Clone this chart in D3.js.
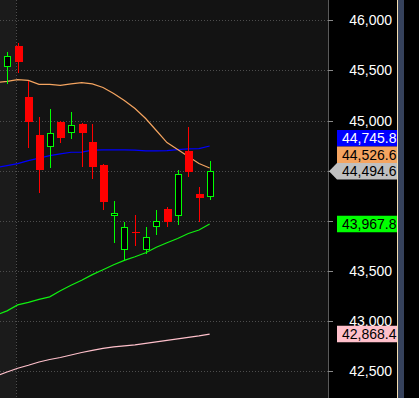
<!DOCTYPE html>
<html>
<head>
<meta charset="utf-8">
<title>Candles</title>
<style>
  body { margin: 0; background: #000; }
  svg { display: block; }
</style>
</head>
<body>
<svg></svg>
<script src="https://d3js.org/d3.v7.min.js"></script>
<script>
  // OHLC for the 20 visible sessions
  var opens  = [45547, 45740, 45230, 44860, 44747, 44990, 44887, 44970, 44790, 44560,
                44057, 43713, 43890, 43717, 43947, 44120, 44057, 44700, 44270, 44247];
  var highs  = [45680, 45773, 45390, 45030, 45110, 45000, 45080, 44975, 44970, 44565,
                44200, 43990, 44060, 43940, 44103, 44140, 44510, 44940, 44340, 44600];
  var lows   = [45367, 45473, 44723, 44273, 44523, 44773, 44813, 44533, 44413, 44110,
                43773, 43600, 43743, 43667, 43853, 43933, 43957, 44433, 43987, 44207];
  var closes = [45647, 45583, 44983, 44503, 44877, 44823, 44957, 44873, 44533, 44183,
                44077, 43940, 43873, 43837, 44000, 43983, 44470, 44483, 44223, 44494.6];

  // moving averages, first value is the session before the first candle
  var maOrange = [45380, 45390, 45407, 45400, 45360, 45360, 45350, 45365, 45377, 45365, 45330,
                  45270, 45200, 45120, 45020, 44900, 44780, 44710, 44640, 44570, 44526.6];
  var maBlue   = [44530, 44550, 44570, 44600, 44625, 44650, 44667, 44683, 44685, 44704, 44706,
                  44706, 44706, 44705, 44697, 44697, 44700, 44710, 44717, 44720, 44745.8];
  var maGreen  = [43060, 43100, 43160, 43185, 43215, 43240, 43300, 43355, 43405, 43462, 43510,
                  43560, 43604, 43640, 43680, 43735, 43780, 43823, 43872, 43907, 43967.8];
  var maPink   = [42450, 42490, 42527, 42557, 42590, 42615, 42635, 42660, 42685, 42705, 42725,
                  42740, 42750, 42760, 42775, 42790, 42805, 42820, 42835, 42850, 42868.4];

  var yTicks = [42500, 43000, 43500, 44000, 44500, 45000, 45500, 46000];

  var W = 419, H = 398, plotW = 328;

  var x = d3.scaleLinear().domain([-0.66, 30.1]).range([0, plotW]);
  var y = d3.scaleLinear().domain([42500, 46000]).range([371, 20.3]);

  var svg = d3.select('svg').attr('width', W).attr('height', H)
    .style('font-family', '"Liberation Sans", Arial, sans-serif');

  // backgrounds
  svg.append('rect').attr('width', W).attr('height', H).attr('fill', '#000');
  svg.append('rect').attr('width', plotW).attr('height', H).attr('fill', '#131313');
  svg.append('rect').attr('width', 16).attr('height', H).attr('fill', '#1b1b1b');
  svg.append('rect').attr('x', 397).attr('width', 1).attr('height', H).attr('fill', '#f3dcb0');
  svg.append('rect').attr('x', 398).attr('width', 6).attr('height', H).attr('fill', '#36425c');

  svg.append('clipPath').attr('id', 'plot')
    .append('rect').attr('width', plotW).attr('height', H);

  // grid
  var grid = svg.append('g').attr('shape-rendering', 'crispEdges');
  grid.selectAll('line.h').data(yTicks).join('line')
    .attr('class', 'h')
    .attr('x1', 0).attr('x2', plotW)
    .attr('y1', d => Math.round(y(d)) + 0.5).attr('y2', d => Math.round(y(d)) + 0.5)
    .attr('stroke', '#4d4d4d').attr('stroke-dasharray', '1,2');
  grid.append('line')
    .attr('x1', 16.5).attr('x2', 16.5).attr('y1', 0).attr('y2', H)
    .attr('stroke', '#4d4d4d').attr('stroke-dasharray', '1,2');

  // moving averages
  var g = svg.append('g').attr('clip-path', 'url(#plot)');
  var line = d3.line().x((d, i) => x(i - 1)).y(d => y(d));
  [[maPink, '#ffc0cb'], [maGreen, '#10f010'], [maBlue, '#0000ff'], [maOrange, '#f4a460']]
    .forEach(function (s) {
      g.append('path').attr('d', line(s[0]))
        .attr('fill', 'none').attr('stroke', s[1]).attr('stroke-width', 1.2);
    });

  // candles
  var candles = d3.range(opens.length).map(i => ({
    i: i, o: opens[i], h: highs[i], l: lows[i], c: closes[i], up: closes[i] >= opens[i]
  }));
  var bw = 7;
  var cg = g.selectAll('g.candle').data(candles).join('g')
    .attr('class', 'candle').attr('shape-rendering', 'crispEdges');
  cg.append('line')
    .attr('x1', d => Math.round(x(d.i)) + 0.5).attr('x2', d => Math.round(x(d.i)) + 0.5)
    .attr('y1', d => y(d.h)).attr('y2', d => y(d.l))
    .attr('stroke', d => d.up ? '#00ff00' : '#ff0000').attr('stroke-width', 1);
  cg.append('rect')
    .attr('x', d => Math.round(x(d.i)) - 3 + (d.up ? 0.5 : 0))
    .attr('width', d => d.up ? bw - 1 : bw + 1)
    .attr('y', d => y(Math.max(d.o, d.c)) + (d.up ? 0.5 : 0))
    .attr('height', d => Math.max(1, y(Math.min(d.o, d.c)) - y(Math.max(d.o, d.c))))
    .attr('fill', d => d.up ? '#000' : '#ff0000')
    .attr('stroke', d => d.up ? '#00ff00' : 'none');

  // right axis
  var ax = svg.append('g').attr('shape-rendering', 'crispEdges');
  ax.append('line').attr('x1', 328.5).attr('x2', 328.5).attr('y1', 0).attr('y2', H)
    .attr('stroke', '#5a5a5a');
  ax.selectAll('line.t').data(yTicks).join('line').attr('class', 't')
    .attr('x1', 328).attr('x2', 333)
    .attr('y1', d => Math.round(y(d)) + 0.5).attr('y2', d => Math.round(y(d)) + 0.5)
    .attr('stroke', '#8a8a8a');
  svg.append('g').selectAll('text').data(yTicks).join('text')
    .attr('x', 392).attr('y', d => y(d)).attr('dy', '0.36em')
    .attr('text-anchor', 'end').attr('fill', '#fff').attr('font-size', 14)
    .text(d => d3.format(',')(d));

  // last value badges
  var last = closes.length - 1;
  var badges = [
    { v: maBlue[maBlue.length - 1], bg: '#0000ff', fg: '#fff' },
    { v: maOrange[maOrange.length - 1], bg: '#f4a460', fg: '#000' },
    { v: closes[last], bg: '#c0c0c0', fg: '#000', arrow: true },
    { v: maGreen[maGreen.length - 1], bg: '#00ff00', fg: '#000' },
    { v: maPink[maPink.length - 1], bg: '#ffc0cb', fg: '#000' }
  ];
  var bh = 16.5;
  badges.forEach(b => b.cy = y(b.v));
  badges.slice().sort((a, b) => b.cy - a.cy).forEach(function (b, k, arr) {
    if (k > 0) {
      var below = arr[k - 1];
      if (b.cy + bh / 2 > below.cy - bh / 2) b.cy = below.cy - bh;
    }
  });
  var bx = 337, br = 397;
  var bg = svg.append('g');
  badges.forEach(function (b) {
    var t = b.cy - bh / 2, btm = b.cy + bh / 2;
    var pts = b.arrow
      ? [[329, b.cy], [bx, t], [br, t], [br, btm], [bx, btm]]
      : [[bx, t], [br, t], [br, btm], [bx, btm]];
    bg.append('polygon').attr('points', pts.map(p => p.join(',')).join(' '))
      .attr('fill', b.bg);
  });
  svg.append('clipPath').attr('id', 'badgeclip')
    .append('rect').attr('x', bx).attr('width', br - bx).attr('height', H);
  bg.append('g').attr('clip-path', 'url(#badgeclip)')
    .selectAll('text').data(badges).join('text')
    .attr('x', 342).attr('y', d => d.cy).attr('dy', '0.36em')
    .attr('fill', d => d.fg).attr('font-size', 14)
    .text(d => d3.format(',.1f')(d.v));
</script>
</body>
</html>
